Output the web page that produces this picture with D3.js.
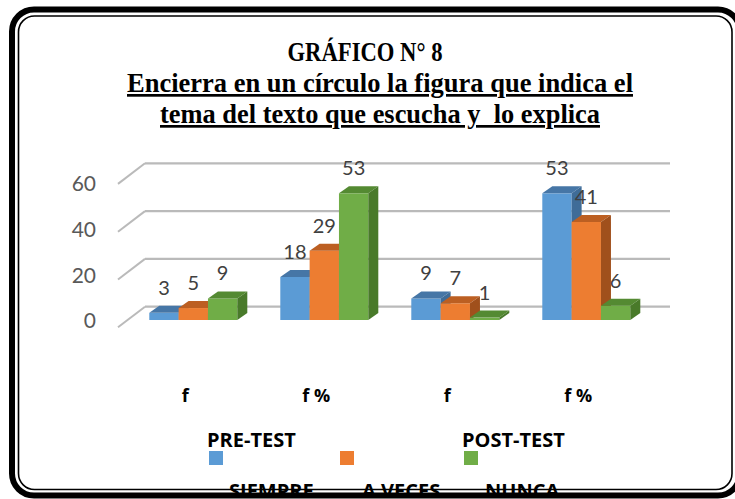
<!DOCTYPE html>
<html><head><meta charset="utf-8">
<script src="https://cdn.jsdelivr.net/npm/d3@7"></script>
<style>html,body{margin:0;padding:0;background:#fff;}svg{display:block;}</style>
</head><body>
<svg id="chart" width="735" height="499"></svg>
<script>
const categories = ["f", "f %", "f", "f %"];
const groupLabels = ["PRE-TEST", "POST-TEST"];
const seriesNames = ["SIEMPRE", "A VECES", "NUNCA"];
const siempre = [3, 18, 9, 53];
const aVeces = [5, 29, 7, 41];
const nunca = [9, 53, 1, 6];
const yTicks = [0, 20, 40, 60];
const titleLines = ["GRÁFICO N° 8", "Encierra en un círculo la figura que indica el", "tema del texto que escucha y  lo explica"];

const series = [siempre, aVeces, nunca];
const colors = ["#5B9BD5", "#ED7D31", "#70AD47"];
const topColors = ["#4676A6", "#BC5F22", "#548A32"];
const sideColors = ["#3F6C98", "#A0501C", "#497A2A"];

const svg = d3.select("#chart");
const W = 735, H = 499;
svg.append("rect").attr("width", W).attr("height", H).attr("fill", "#fff");

// scales
const x = d3.scaleBand().domain(d3.range(categories.length)).range([127.8, 651.8]).paddingInner(43/131).paddingOuter(21.5/131);
const xs = d3.scaleBand().domain(d3.range(series.length)).range([0, x.bandwidth()]);
const y = d3.scaleLinear().domain([0, 60]).range([320, 176.6]);
const backDy = -13.3;
const depthX = 10, depthY = -7;
const yLab = d3.scaleLinear().domain([0, 60]).range([321, 184]);

// title
const tFont = "'Liberation Serif','Times New Roman',serif";
const tSpecs = [{cx: 365, y: 61, w: 155}, {cx: 380, y: 92, w: 506}, {cx: 380, y: 123, w: 440}];
titleLines.forEach((t, i) => {
  svg.append("text").attr("x", tSpecs[i].cx).attr("y", tSpecs[i].y)
    .attr("text-anchor", "middle").attr("font-family", tFont).attr("font-weight", "bold")
    .attr("font-size", 27).attr("fill", "#000")
    .attr("textLength", tSpecs[i].w).attr("lengthAdjust", "spacingAndGlyphs")
    .style("white-space", "pre")
    .style("text-decoration", i > 0 ? "underline" : "none")
    .text(t);
});

// gridlines (back wall) and side diagonals
const grid = svg.append("g");
yTicks.forEach(v => {
  const yb = y(v) + backDy;
  grid.append("line").attr("x1", 145).attr("x2", 670).attr("y1", yb).attr("y2", yb)
    .attr("stroke", "#BABABA").attr("stroke-width", 2.2);
  grid.append("line").attr("x1", 145).attr("y1", yb).attr("x2", 118).attr("y2", yb + 20.6)
    .attr("stroke", "#BABABA").attr("stroke-width", 2);
});

// y axis labels
const lblFont = "Lato, 'Open Sans', sans-serif";
svg.append("g").selectAll("text").data(yTicks).join("text")
  .attr("x", 96).attr("y", d => yLab(d)).attr("dy", "0.35em")
  .attr("text-anchor", "end").attr("font-family", lblFont).attr("font-size", 21)
  .attr("fill", "#595959").text(d => d);

// bars
const bars = svg.append("g");
categories.forEach((c, ci) => {
  series.forEach((s, si) => {
    const v = s[ci];
    const x0 = x(ci) + xs(si), w = xs.bandwidth();
    const yt = y(v), yb = y(0);
    const g = bars.append("g");
    g.append("rect").attr("x", x0).attr("y", yt).attr("width", w).attr("height", yb - yt).attr("fill", colors[si]);
    g.append("path").attr("d", `M${x0},${yt}L${x0 + depthX},${yt + depthY}L${x0 + w + depthX},${yt + depthY}L${x0 + w},${yt}Z`).attr("fill", topColors[si]);
    g.append("path").attr("d", `M${x0 + w},${yt}L${x0 + w + depthX},${yt + depthY}L${x0 + w + depthX},${yb + depthY}L${x0 + w},${yb}Z`).attr("fill", sideColors[si]);
  });
});

// data labels
const labels = svg.append("g");
categories.forEach((c, ci) => {
  series.forEach((s, si) => {
    const v = s[ci];
    labels.append("text").attr("x", x(ci) + xs(si) + xs.bandwidth() / 2).attr("y", y(v) - 25).attr("dy", "0.35em")
      .attr("text-anchor", "middle").attr("font-family", lblFont).attr("font-size", 20)
      .attr("fill", "#404040").text(v);
  });
});

// category labels
const boldFont = "'Open Sans', Lato, sans-serif";
svg.append("g").selectAll("text").data(categories).join("text")
  .attr("x", (d, i) => x(i) + x.bandwidth() / 2 - 8).attr("y", 402)
  .attr("text-anchor", "middle").attr("font-family", boldFont).attr("font-weight", "bold")
  .attr("font-size", 18).attr("fill", "#000").text(d => d);

// group labels (PRE-TEST / POST-TEST)
[{t: groupLabels[0], x: 207}, {t: groupLabels[1], x: 462}].forEach(o => {
  svg.append("text").attr("x", o.x).attr("y", 447).attr("font-family", boldFont).attr("font-weight", "bold")
    .attr("font-size", 20).attr("fill", "#000").text(o.t);
});

// legend
const legX = [209, 340, 464];
const legTextX = [229, 362, 485];
seriesNames.forEach((n, i) => {
  svg.append("rect").attr("x", legX[i]).attr("y", 451).attr("width", 14).attr("height", 14).attr("fill", colors[i]);
  svg.append("text").attr("x", legTextX[i]).attr("y", 498).attr("font-family", boldFont).attr("font-weight", "bold")
    .attr("font-size", 20).attr("fill", "#000").text(n);
});

// frame
function rr(x0, y0, x1, y1, r) {
  return `M${x0 + r},${y0}H${x1 - r}A${r},${r} 0 0 1 ${x1},${y0 + r}V${y1 - r}A${r},${r} 0 0 1 ${x1 - r},${y1}H${x0 + r}A${r},${r} 0 0 1 ${x0},${y1 - r}V${y0 + r}A${r},${r} 0 0 1 ${x0 + r},${y0}Z`;
}
svg.append("path").attr("d", rr(12, 9.5, 740, 495.5, 22)).attr("fill", "none").attr("stroke", "#000").attr("stroke-width", 6);
svg.append("path").attr("d", rr(18.5, 16, 732, 489.5, 16)).attr("fill", "none").attr("stroke", "#000").attr("stroke-width", 1.6);
</script>
</body></html>
